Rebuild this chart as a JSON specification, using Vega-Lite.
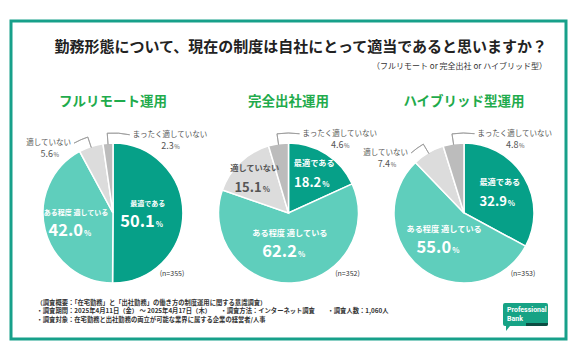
{
  "$schema": "https://vega.github.io/schema/vega-lite/v6.json",
  "width": 555,
  "height": 318,
  "autosize": {"type": "none"},
  "padding": {"left": 11, "top": 21, "right": 14, "bottom": 21},
  "background": "white",
  "config": {
    "font": "Noto Sans CJK JP",
    "view": {"stroke": "#17a08a", "strokeWidth": 3}
  },
  "title": {
    "text": "勤務形態について、現在の制度は自社にとって適当であると思いますか？",
    "subtitle": "（フルリモート or 完全出社 or ハイブリッド型）",
    "anchor": "end",
    "frame": "group",
    "offset": -50,
    "dx": -19,
    "font": "Noto Sans CJK JP",
    "fontSize": 15,
    "fontWeight": "bold",
    "color": "#222222",
    "subtitleFont": "Noto Sans CJK JP",
    "subtitleFontSize": 8,
    "subtitleColor": "#333333",
    "subtitlePadding": 8
  },
  "resolve": {"scale": {"size": "independent"}},
  "datasets": {
    "slices": [
      {"chart": "フルリモート運用", "cat": "最適である", "pct": 50.1, "ord": 1},
      {"chart": "フルリモート運用", "cat": "ある程度 適している", "pct": 42.0, "ord": 2},
      {"chart": "フルリモート運用", "cat": "適していない", "pct": 5.6, "ord": 3},
      {"chart": "フルリモート運用", "cat": "まったく適していない", "pct": 2.3, "ord": 4},
      {"chart": "完全出社運用", "cat": "最適である", "pct": 18.2, "ord": 1},
      {"chart": "完全出社運用", "cat": "ある程度 適している", "pct": 62.2, "ord": 2},
      {"chart": "完全出社運用", "cat": "適していない", "pct": 15.1, "ord": 3},
      {"chart": "完全出社運用", "cat": "まったく適していない", "pct": 4.6, "ord": 4},
      {"chart": "ハイブリッド型運用", "cat": "最適である", "pct": 32.9, "ord": 1},
      {"chart": "ハイブリッド型運用", "cat": "ある程度 適している", "pct": 55.0, "ord": 2},
      {"chart": "ハイブリッド型運用", "cat": "適していない", "pct": 7.4, "ord": 3},
      {"chart": "ハイブリッド型運用", "cat": "まったく適していない", "pct": 4.8, "ord": 4}
    ],
    "charts": [
      {"chart": "フルリモート運用", "n": "(n=355)"},
      {"chart": "完全出社運用", "n": "(n=352)"},
      {"chart": "ハイブリッド型運用", "n": "(n=353)"}
    ]
  },
  "data": {"name": "slices"},
  "transform": [
    {"stack": "pct", "groupby": ["chart"], "sort": [{"field": "ord", "order": "ascending"}], "offset": "normalize", "as": ["t0", "t1"]},
    {"calculate": "(datum.t0 + datum.t1) / 2", "as": "tm"},
    {"calculate": "datum.cat === 'まったく適していない' ? datum.tm + 0.045 : datum.tm - 0.03", "as": "tE"}
  ],
  "encoding": {
    "x": {
      "field": "chart",
      "type": "nominal",
      "scale": {"type": "point", "domain": ["フルリモート運用", "完全出社運用", "ハイブリッド型運用"], "range": [102, 453], "padding": 0},
      "axis": {
        "labels": false,
        "ticks": false,
        "domain": false,
        "grid": false,
        "title": [
          "（調査概要：「在宅勤務」と「出社勤務」の働き方の制度運用に関する意識調査）",
          "・調査期間：2025年4月11日（金） ～ 2025年4月17日（木）　　・調査方法：インターネット調査　　・調査人数：1,060人",
          "・調査対象：在宅勤務と出社勤務の両立が可能な業界に属する企業の経営者/人事"
        ],
        "titleAnchor": "start",
        "titleAlign": "left",
        "titleBaseline": "top",
        "titleX": 25,
        "titleY": -40,
        "titleFont": "Noto Sans CJK JP",
        "titleFontSize": 6.3,
        "titleFontWeight": "bold",
        "titleColor": "#333333",
        "titleLineHeight": 8.6
      }
    },
    "y": {
      "datum": "pie",
      "type": "nominal",
      "scale": {"type": "point", "domain": ["pie"], "range": [192, 192], "padding": 0},
      "axis": null
    }
  },
  "layer": [
    {
      "mark": {"type": "arc", "outerRadius": 70, "stroke": "white", "strokeWidth": 1.5},
      "encoding": {
        "theta": {"field": "t0", "type": "quantitative", "stack": null, "scale": {"domain": [0, 1], "range": [0, 6.283185307]}},
        "theta2": {"field": "t1"},
        "color": {
          "field": "cat",
          "type": "nominal",
          "scale": {"domain": ["最適である", "ある程度 適している", "適していない", "まったく適していない"], "range": ["#06a088", "#5fcebc", "#dcdcdc", "#bcbcbc"]},
          "legend": null
        }
      }
    },
    {
      "transform": [{"filter": "datum.pct < 10"}],
      "mark": {"type": "arc", "outerRadius": 80, "innerRadius": 69, "stroke": "#9a9a9a", "strokeWidth": 0.8, "fillOpacity": 0},
      "encoding": {
        "theta": {"field": "tm", "type": "quantitative", "stack": null},
        "theta2": {"field": "tm"}
      }
    },
    {
      "transform": [{"filter": "datum.pct < 10"}],
      "mark": {"type": "arc", "outerRadius": 80, "innerRadius": 80, "stroke": "#9a9a9a", "strokeWidth": 0.8, "fillOpacity": 0},
      "encoding": {
        "theta": {"field": "tm", "type": "quantitative", "stack": null},
        "theta2": {"field": "tE"}
      }
    },
    {
      "transform": [{"filter": "datum.pct >= 10"}],
      "mark": {"type": "text", "baseline": "middle", "align": "center", "dy": -9, "fontWeight": "bold"},
      "encoding": {
        "theta": {"field": "tm", "type": "quantitative", "stack": null},
        "radius": {"field": "pct", "type": "quantitative", "scale": {"type": "linear", "domain": [15, 62], "range": [49, 30], "zero": false}},
        "text": {"field": "cat"},
        "size": {"field": "chart", "type": "nominal", "scale": {"type": "ordinal", "domain": ["フルリモート運用", "完全出社運用", "ハイブリッド型運用"], "range": [7, 8.2, 8.2]}, "legend": null},
        "color": {"condition": {"test": "datum.cat === '適していない'", "value": "#555555"}, "value": "white"}
      }
    },
    {
      "transform": [{"filter": "datum.pct >= 10"}],
      "mark": {"type": "text", "baseline": "alphabetic", "align": "right", "dx": 7, "dy": 14, "fontWeight": "bold"},
      "encoding": {
        "theta": {"field": "tm", "type": "quantitative", "stack": null},
        "radius": {"field": "pct", "type": "quantitative"},
        "text": {"field": "pct", "format": ".1f"},
        "size": {"field": "pct", "type": "quantitative", "scale": {"type": "threshold", "domain": [40], "range": [13, 16.5]}, "legend": null},
        "color": {"condition": {"test": "datum.cat === '適していない'", "value": "#555555"}, "value": "white"}
      }
    },
    {
      "transform": [{"filter": "datum.pct >= 10"}],
      "mark": {"type": "text", "baseline": "alphabetic", "align": "left", "dx": 8, "dy": 14, "fontSize": 7.5, "fontWeight": "bold"},
      "encoding": {
        "theta": {"field": "tm", "type": "quantitative", "stack": null},
        "radius": {"field": "pct", "type": "quantitative"},
        "text": {"value": "%"},
        "color": {"condition": {"test": "datum.cat === '適していない'", "value": "#555555"}, "value": "white"}
      }
    },
    {
      "transform": [{"filter": "datum.cat === 'まったく適していない'"}],
      "mark": {"type": "text", "baseline": "middle", "align": "left", "dx": 3, "radius": 80, "fontSize": 7.5, "color": "#555555"},
      "encoding": {
        "theta": {"field": "tE", "type": "quantitative", "stack": null},
        "text": {"field": "cat"}
      }
    },
    {
      "transform": [{"filter": "datum.cat === 'まったく適していない'"}],
      "mark": {"type": "text", "baseline": "alphabetic", "align": "right", "dx": 44, "dy": 14, "radius": 80, "fontSize": 9, "color": "#555555"},
      "encoding": {
        "theta": {"field": "tE", "type": "quantitative", "stack": null},
        "text": {"field": "pct", "format": ".1f"}
      }
    },
    {
      "transform": [{"filter": "datum.cat === 'まったく適していない'"}],
      "mark": {"type": "text", "baseline": "alphabetic", "align": "left", "dx": 44.5, "dy": 14, "radius": 80, "fontSize": 6, "color": "#555555"},
      "encoding": {
        "theta": {"field": "tE", "type": "quantitative", "stack": null},
        "text": {"value": "%"}
      }
    },
    {
      "transform": [{"filter": "datum.cat === '適していない' && datum.pct < 10"}],
      "mark": {"type": "text", "baseline": "middle", "align": "right", "dx": -3, "radius": 80, "fontSize": 7.5, "color": "#555555"},
      "encoding": {
        "theta": {"field": "tE", "type": "quantitative", "stack": null},
        "text": {"field": "cat"}
      }
    },
    {
      "transform": [{"filter": "datum.cat === '適していない' && datum.pct < 10"}],
      "mark": {"type": "text", "baseline": "alphabetic", "align": "right", "dx": -21, "dy": 14, "radius": 80, "fontSize": 9, "color": "#555555"},
      "encoding": {
        "theta": {"field": "tE", "type": "quantitative", "stack": null},
        "text": {"field": "pct", "format": ".1f"}
      }
    },
    {
      "transform": [{"filter": "datum.cat === '適していない' && datum.pct < 10"}],
      "mark": {"type": "text", "baseline": "alphabetic", "align": "left", "dx": -20.5, "dy": 14, "radius": 80, "fontSize": 6, "color": "#555555"},
      "encoding": {
        "theta": {"field": "tE", "type": "quantitative", "stack": null},
        "text": {"value": "%"}
      }
    },
    {
      "data": {"name": "charts"},
      "mark": {"type": "text", "baseline": "middle", "align": "center", "dy": -111, "fontSize": 13.5, "fontWeight": "bold", "color": "#1fab4c"},
      "encoding": {"text": {"field": "chart"}}
    },
    {
      "data": {"name": "charts"},
      "mark": {"type": "text", "baseline": "middle", "align": "center", "dx": 59, "dy": 61, "fontSize": 7, "color": "#333333"},
      "encoding": {"text": {"field": "n"}}
    },
    {
      "data": {"name": "charts"},
      "transform": [{"filter": "datum.chart === 'ハイブリッド型運用'"}],
      "mark": {"type": "point", "filled": true, "opacity": 1, "size": 4, "strokeWidth": 0, "color": "#17a385",
        "shape": "M41,90H82Q84,90 84,92V111Q84,113 82,113H46L42,118L42,113H41Q39,113 39,111V92Q39,90 41,90Z"},
      "encoding": {}
    },
    {
      "data": {"name": "charts"},
      "transform": [{"filter": "datum.chart === 'ハイブリッド型運用'"}],
      "mark": {"type": "point", "filled": true, "opacity": 1, "size": 4, "strokeWidth": 0, "color": "#0c4d42",
        "shape": "M62,110H84V111Q84,113 82,113H62Z"},
      "encoding": {}
    },
    {
      "data": {"name": "charts"},
      "transform": [{"filter": "datum.chart === 'ハイブリッド型運用'"}],
      "mark": {"type": "text", "baseline": "alphabetic", "align": "left", "dx": 43, "dy": 99, "fontSize": 7, "fontWeight": "bold", "font": "Liberation Sans Narrow, Roboto, sans-serif", "color": "white"},
      "encoding": {"text": {"value": "Professional"}}
    },
    {
      "data": {"name": "charts"},
      "transform": [{"filter": "datum.chart === 'ハイブリッド型運用'"}],
      "mark": {"type": "text", "baseline": "alphabetic", "align": "left", "dx": 43, "dy": 107.5, "fontSize": 7, "fontWeight": "bold", "font": "Liberation Sans Narrow, Roboto, sans-serif", "color": "white"},
      "encoding": {"text": {"value": "Bank"}}
    }
  ]
}
